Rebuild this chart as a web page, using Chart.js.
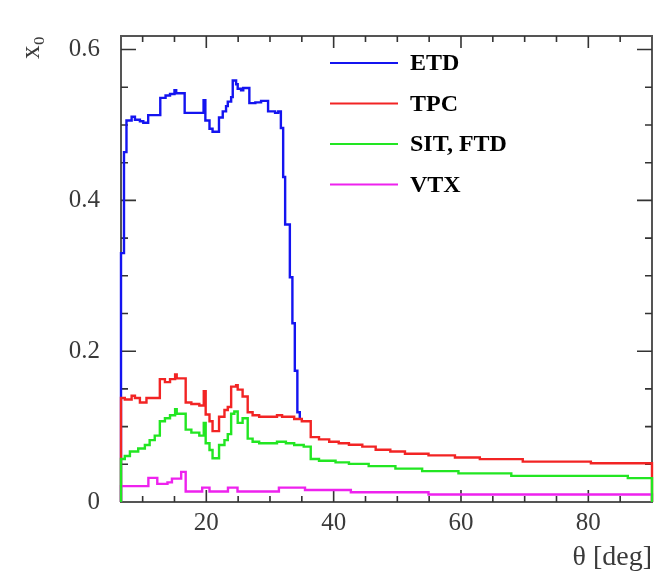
<!DOCTYPE html>
<html>
<head>
<meta charset="utf-8">
<script src="https://cdn.jsdelivr.net/npm/chart.js@4.4.0/dist/chart.umd.min.js"></script>
<style>
  body { margin: 0; background: #fff; }
  #wrap { width: 660px; height: 574px; }
</style>
</head>
<body>
<div id="wrap"><canvas id="x0Chart" width="660" height="574"></canvas></div>
<script>
// Material budget x0 vs polar angle theta (histogram bin left edges, last point closes the bin)
const etdTheta = [6.6, 6.6, 7.07, 7.46, 8.27, 8.79, 9.57, 10.1, 10.87, 12.77, 13.6, 14.3, 15.0, 15.27, 16.6, 19.57, 19.85, 20.5, 20.98, 21.99, 22.58, 23.1, 23.37, 23.9, 24.15, 24.68, 24.93, 25.46, 25.8, 26.76, 27.7, 28.6, 29.7, 30.8, 31.3, 31.71, 32.07, 32.38, 33.12, 33.52, 33.9, 34.3, 34.68];
const etdX0 = [0, 0.33, 0.464, 0.506, 0.511, 0.507, 0.505, 0.503, 0.513, 0.536, 0.539, 0.541, 0.546, 0.542, 0.516, 0.533, 0.506, 0.495, 0.491, 0.510, 0.518, 0.525, 0.531, 0.537, 0.559, 0.554, 0.548, 0.546, 0.549, 0.529, 0.530, 0.532, 0.518, 0.516, 0.518, 0.496, 0.431, 0.368, 0.298, 0.237, 0.174, 0.119, 0.110];

const tpcTheta = [6.6, 6.6, 7.2, 8.27, 8.79, 9.57, 10.6, 12.7, 13.5, 14.3, 15.1, 15.35, 16.76, 17.65, 18.9, 19.6, 19.9, 20.5, 20.98, 22.0, 22.85, 23.37, 23.9, 24.68, 24.93, 25.7, 26.5, 27.27, 28.3, 31.1, 31.9, 33.8, 35.0, 36.4, 37.7, 39.3, 40.8, 42.4, 44.5, 46.6, 48.9, 51.2, 54.9, 59.05, 62.96, 69.7, 80.4, 90];
const tpcX0 = [0, 0.138, 0.136, 0.141, 0.138, 0.132, 0.138, 0.163, 0.159, 0.163, 0.169, 0.164, 0.132, 0.130, 0.128, 0.147, 0.116, 0.107, 0.094, 0.113, 0.122, 0.126, 0.153, 0.155, 0.149, 0.140, 0.119, 0.115, 0.113, 0.115, 0.113, 0.110, 0.107, 0.086, 0.083, 0.080, 0.078, 0.076, 0.0735, 0.0693, 0.067, 0.064, 0.0618, 0.059, 0.0568, 0.0535, 0.0514, 0];

const sitTheta = [6.6, 6.6, 7.2, 8.0, 9.3, 10.35, 11.1, 11.9, 12.7, 13.5, 14.3, 15.1, 15.35, 16.76, 17.65, 18.9, 19.6, 19.9, 20.5, 20.98, 22.0, 22.85, 23.37, 23.9, 24.4, 24.93, 25.7, 26.5, 27.27, 28.3, 31.1, 32.5, 33.8, 35.3, 36.4, 37.7, 40.3, 42.4, 45.5, 49.7, 53.9, 59.6, 67.9, 86.2, 90];
const sitX0 = [0, 0.057, 0.061, 0.067, 0.071, 0.0756, 0.082, 0.088, 0.107, 0.111, 0.115, 0.123, 0.117, 0.096, 0.092, 0.088, 0.105, 0.078, 0.069, 0.058, 0.0756, 0.082, 0.090, 0.117, 0.120, 0.105, 0.111, 0.084, 0.080, 0.078, 0.080, 0.078, 0.0756, 0.0735, 0.057, 0.0548, 0.0526, 0.0505, 0.0476, 0.0443, 0.041, 0.038, 0.0347, 0.0317, 0];

const vtxTheta = [6.6, 6.6, 10.9, 12.3, 13.9, 14.6, 16.05, 16.76, 19.35, 20.5, 23.4, 24.9, 31.4, 35.5, 42.7, 54.9, 90];
const vtxX0 = [0, 0.021, 0.032, 0.024, 0.026, 0.031, 0.040, 0.014, 0.019, 0.014, 0.019, 0.014, 0.019, 0.016, 0.013, 0.010, 0];

const seriesNames = ['ETD', 'TPC', 'SIT, FTD', 'VTX'];
const seriesColors = ['#1414f0', '#f22424', '#22e622', '#ee22ee'];

const xTickLabels = [20, 40, 60, 80];
const xMinorTicks = [10, 15, 20, 25, 30, 35, 40, 45, 50, 55, 60, 65, 70, 75, 80, 85];
const yTickLabels = [0, 0.2, 0.4, 0.6];
const yMinorTicks = [0.05, 0.1, 0.15, 0.2, 0.25, 0.3, 0.35, 0.4, 0.45, 0.5, 0.55, 0.6];

function toPoints(thetas, vals) {
    return thetas.map((t, i) => ({ x: t, y: vals[i] }));
}

const serif = 'Liberation Serif, Times New Roman, serif';

// frame + inward ticks on all four sides
const frameTicks = {
    id: 'frameTicks',
    beforeDatasetsDraw(chart) {
        const { ctx, chartArea: a, scales: { x, y } } = chart;
        ctx.save();
        ctx.strokeStyle = '#555';
        ctx.lineWidth = 2;
        ctx.strokeRect(a.left, a.top, a.right - a.left, a.bottom - a.top);
        ctx.strokeStyle = '#333';
        ctx.lineWidth = 1.6;
        ctx.beginPath();
        xMinorTicks.forEach(v => {
            const px = x.getPixelForValue(v);
            const len = xTickLabels.includes(v) ? 12 : 6;
            ctx.moveTo(px, a.bottom); ctx.lineTo(px, a.bottom - len);
            ctx.moveTo(px, a.top); ctx.lineTo(px, a.top + len);
        });
        yMinorTicks.forEach(v => {
            const py = y.getPixelForValue(v);
            const len = yTickLabels.includes(v) ? 15 : 7;
            ctx.moveTo(a.left, py); ctx.lineTo(a.left + len, py);
            ctx.moveTo(a.right, py); ctx.lineTo(a.right - len, py);
        });
        ctx.stroke();
        ctx.restore();
    }
};

// legend drawn inside the plot
const innerLegend = {
    id: 'innerLegend',
    afterDraw(chart) {
        const ctx = chart.ctx;
        ctx.save();
        ctx.font = 'bold 24px ' + serif;
        ctx.textBaseline = 'middle';
        ctx.fillStyle = '#000';
        seriesNames.forEach((name, i) => {
            const yy = 63 + i * 40.5;
            ctx.strokeStyle = seriesColors[i];
            ctx.lineWidth = 2;
            ctx.beginPath();
            ctx.moveTo(330, yy);
            ctx.lineTo(398, yy);
            ctx.stroke();
            ctx.fillText(name, 410, yy + 1);
        });
        ctx.restore();
    }
};

function makeSet(idx, thetas, vals) {
    return {
        label: seriesNames[idx],
        data: toPoints(thetas, vals),
        borderColor: seriesColors[idx],
        borderWidth: 2.4,
        pointRadius: 0,
        stepped: 'before',
        fill: false,
        clip: false
    };
}

const ctx = document.getElementById('x0Chart').getContext('2d');
const x0Chart = new Chart(ctx, {
    type: 'line',
    data: {
        // first dataset is drawn on top
        datasets: [
            makeSet(2, sitTheta, sitX0),
            makeSet(3, vtxTheta, vtxX0),
            makeSet(1, tpcTheta, tpcX0),
            makeSet(0, etdTheta, etdX0)
        ]
    },
    options: {
        responsive: false,
        animation: false,
        layout: { padding: { left: 0, top: 9, right: 8, bottom: 0 } },
        plugins: {
            legend: { display: false },
            tooltip: { enabled: false }
        },
        scales: {
            x: {
                type: 'linear',
                min: 6.6,
                max: 90,
                afterBuildTicks: s => { s.ticks = xTickLabels.map(v => ({ value: v })); },
                afterFit: s => { s.height = 72; },
                grid: { display: false, drawTicks: false },
                border: { display: false },
                ticks: {
                    padding: 6,
                    color: '#3a3a3a',
                    font: { family: serif, size: 25 },
                    maxRotation: 0
                },
                title: {
                    display: true,
                    text: 'θ [deg]',
                    align: 'end',
                    color: '#3a3a3a',
                    font: { family: serif, size: 28 },
                    padding: { top: 0, bottom: 0 }
                }
            },
            y: {
                min: 0,
                max: 0.618,
                afterBuildTicks: s => { s.ticks = yTickLabels.map(v => ({ value: v })); },
                afterFit: s => { s.width = 121; },
                grid: { display: false, drawTicks: false },
                border: { display: false },
                ticks: {
                    padding: 21,
                    color: '#3a3a3a',
                    font: { family: serif, size: 25 },
                    callback: v => String(v)
                },
                title: {
                    display: true,
                    text: 'x₀',
                    align: 'end',
                    color: '#3a3a3a',
                    font: { family: serif, size: 27 },
                    padding: { top: 16, bottom: 0 }
                }
            }
        }
    },
    plugins: [frameTicks, innerLegend]
});
</script>
</body>
</html>
